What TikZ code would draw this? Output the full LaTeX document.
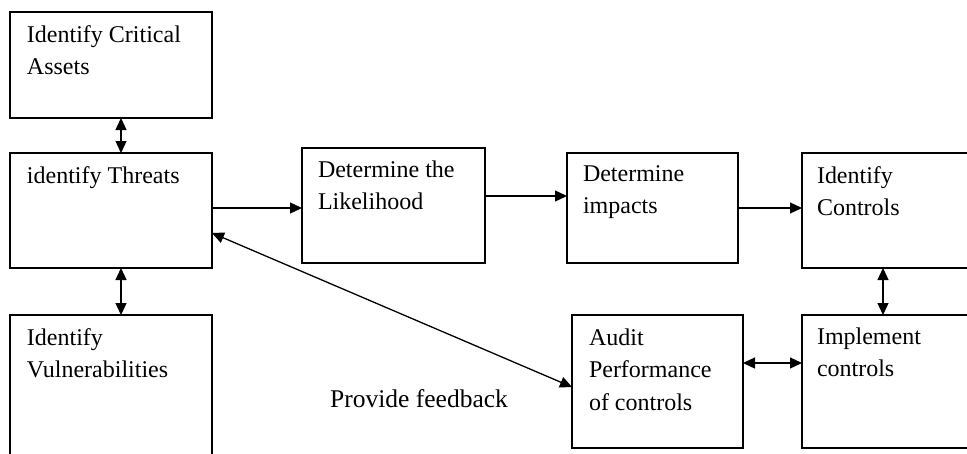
\documentclass[tikz,border=0pt]{standalone}
\usepackage{fontspec}
\setmainfont{Liberation Serif}
\usetikzlibrary{arrows.meta,calc}

\tikzset{
  box/.style={draw=black, line width=1.2pt, rectangle, inner sep=0pt, outer sep=0pt, anchor=north west},
  lbl/.style={inner sep=0pt, outer sep=0pt, anchor=north west, align=left,
              font=\fontsize{24}{32.5}\selectfont},
  tip/.style={Triangle[length=12pt,width=11pt]},
  link/.style={draw=black, line width=1.3pt, -{Triangle[length=12pt,width=11pt]}},
  dlink/.style={draw=black, line width=1.3pt, {Triangle[length=12pt,width=11pt]}-{Triangle[length=12pt,width=11pt]}}
}

\begin{document}
\begin{tikzpicture}[x=1pt,y=-1pt]
  \useasboundingbox (0,0) rectangle (967,453);
  \fill[white] (0,0) rectangle (967,453);
  \clip (0,0) rectangle (967,453);

  % process boxes
  \node[box, minimum width=202pt, minimum height=106pt] (assets)    at (10,12)   {};
  \node[box, minimum width=202pt, minimum height=115pt] (threats)   at (10,153)  {};
  \node[box, minimum width=202pt, minimum height=160pt] (vuln)      at (10,315)  {};
  \node[box, minimum width=183pt, minimum height=115pt] (likely)    at (302,148) {};
  \node[box, minimum width=171pt, minimum height=110pt] (impacts)   at (567,153) {};
  \node[box, minimum width=180pt, minimum height=115pt] (controls)  at (802,153) {};
  \node[box, minimum width=180pt, minimum height=133pt] (implement) at (802,315) {};
  \node[box, minimum width=171pt, minimum height=133pt] (audit)     at (572,315) {};

  % box texts
  \node[lbl] (assets-t)    at ($(assets.north west)+(17,13.5)$)    {Identify Critical\\Assets};
  \node[lbl] (threats-t)   at ($(threats.north west)+(17,13.5)$)   {identify Threats};
  \node[lbl] (vuln-t)      at ($(vuln.north west)+(17,13.5)$)      {Identify\\Vulnerabilities};
  \node[lbl] (likely-t)    at ($(likely.north west)+(16,12.5)$)    {Determine the\\Likelihood};
  \node[lbl] (impacts-t)   at ($(impacts.north west)+(16,12.5)$)   {Determine\\impacts};
  \node[lbl] (controls-t)  at ($(controls.north west)+(15,13.5)$)  {Identify\\Controls};
  \node[lbl] (implement-t) at ($(implement.north west)+(15,12.5)$) {Implement\\controls};
  \node[lbl] (audit-t)     at ($(audit.north west)+(17,13.5)$)     {Audit\\Performance\\of controls};

  \node[inner sep=0pt, anchor=base west, font=\fontsize{25.5}{30}\selectfont] (fb) at (330,407) {Provide feedback};

  % connectors
  \draw[dlink] ($(assets.south)+(10,0)$) -- ($(threats.north)+(10,0)$);
  \draw[dlink] ($(threats.south)+(10,0)$) -- ($(vuln.north)+(10,0)$);
  \draw[link] ($(threats.east)+(0,-2.5)$) coordinate (te) -- (te -| likely.west);
  \draw[link] ($(likely.east)+(0,-9.5)$) coordinate (le) -- (le -| impacts.west);
  \draw[link] (impacts.east) -- (impacts.east -| controls.west);
  \draw[dlink] ($(controls.south west)+(81,0)$) -- ($(implement.north west)+(81,0)$);
  \draw[dlink] ($(audit.east)+(0,-18.5)$) coordinate (ae) -- (ae -| implement.west);
  \draw[dlink] ($(threats.east)+(0,22.5)$) -- ($(audit.west)+(0,5.5)$);
\end{tikzpicture}
\end{document}
